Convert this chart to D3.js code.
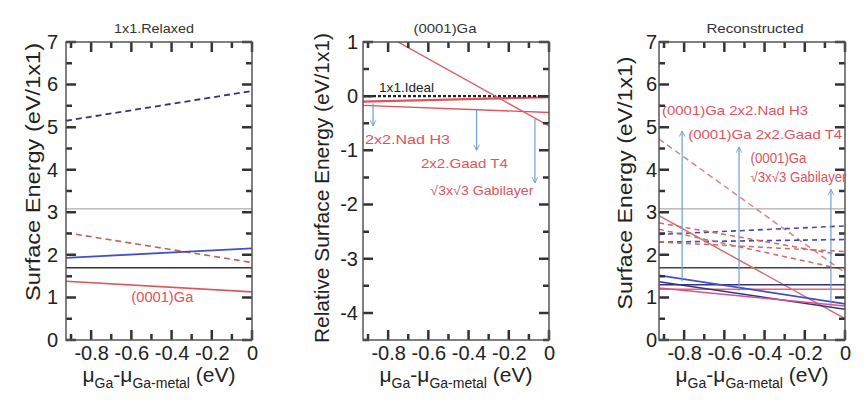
<!DOCTYPE html>
<html><head><meta charset="utf-8">
<script src="https://cdn.jsdelivr.net/npm/d3@7"></script>
<style>body{margin:0;background:#fff}svg{display:block}</style>
</head><body>
<script>
// ---------------- data ----------------
const muEnds = [-0.925, 0];                 // chemical potential range (eV)
const xTickValues = [-0.8, -0.6, -0.4, -0.2, 0];
const xMinorValues = [-0.9, -0.7, -0.5, -0.3, -0.1];
const energyTicks = [0, 1, 2, 3, 4, 5, 6, 7];
const energyMinor = [0.5, 1.5, 2.5, 3.5, 4.5, 5.5, 6.5];
const relativeTicks = [-4, -3, -2, -1, 0, 1];
const relativeMinor = [-4.5, -3.5, -2.5, -1.5, -0.5, 0.5];

const panelTitles = ["1x1.Relaxed", "(0001)Ga", "Reconstructed"];
const yLabels = ["Surface Energy (eV/1x1)", "Relative Surface Energy (eV/1x1)", "Surface Energy (eV/1x1)"];

// panel 1 : 1x1 relaxed (values at mu = -0.925 and 0)
const relaxedNavyDashed = [5.15, 5.85];
const relaxedGrayRef = [3.08, 3.08];
const relaxedRedDashed = [2.52, 1.82];
const relaxedBlue = [1.93, 2.15];
const relaxedBlackRef = [1.70, 1.70];
const relaxedGa = [1.38, 1.13];

// panel 2 : (0001)Ga relative energies
const idealLine = [0, 0];
const sqrt3Bilayer = [1.36, -0.55];
const nadH3 = [-0.10, -0.02];
const gaadT4 = [-0.17, -0.30];
const relArrowMu = [-0.875, -0.36, -0.07];
const relArrowFrom = [-0.13, -0.24, -0.42];
const relArrowTo = [-0.55, -1.0, -1.6];

// panel 3 : reconstructed
const reconGrayRef = [3.08, 3.08];
const reconBlackRef = [1.70, 1.70];
const reconNavyRef = [1.30, 1.30];
const reconRedRef = [1.19, 1.19];
const reconSteep = [2.92, 0.50];
const reconBlue = [1.52, 0.85];
const reconNavy = [1.37, 0.72];
const reconPink = [1.22, 0.80];
const reconDashedSteep = [4.72, 1.58];
const reconNavyDashedA = [2.48, 2.68];
const reconNavyDashedB = [2.30, 2.36];
const reconRedDashedA = [2.75, 1.98];
const reconRedDashedB = [2.30, 2.08];
const reconRedDashedC = [2.60, 1.65];
const reconArrowMu = [-0.81, -0.527, -0.07];
const reconArrowFrom = [1.38, 1.15, 0.80];
const reconArrowTo = [4.91, 4.53, 3.54];

// ---------------- drawing ----------------
const W = 866, H = 410;
const svg = d3.select("body").append("svg").attr("width", W).attr("height", H)
  .style("font-family", "'Liberation Sans', Arial, sans-serif");

const defs = svg.append("defs");
defs.append("marker").attr("id", "arr").attr("viewBox", "0 0 10 10")
  .attr("refX", 9).attr("refY", 5).attr("markerWidth", 7).attr("markerHeight", 7)
  .attr("orient", "auto-start-reverse").attr("markerUnits", "userSpaceOnUse")
  .append("path").attr("d", "M1,1 L9,5 L1,9").attr("fill", "none")
  .attr("stroke", "#6f9fd0").attr("stroke-width", 1.3);

const RED = "#e0525c", BLUE = "#3f4fcf", NAVY = "#34347c", ARROW = "#6f9fd0";

function panel(cfg) {
  const x = d3.scaleLinear().domain(muEnds).range([cfg.left, cfg.right]);
  const y = d3.scaleLinear().domain(cfg.yDomain).range([340, 42]);
  const yTop = 42, yBot = 340;
  const g = svg.append("g");
  const clipId = "clip" + cfg.id;
  defs.append("clipPath").attr("id", clipId).append("rect")
    .attr("x", cfg.left).attr("y", yTop).attr("width", cfg.right - cfg.left).attr("height", yBot - yTop);
  const plot = g.append("g").attr("clip-path", `url(#${clipId})`);

  const line = d3.line().x(d => x(d[0])).y(d => y(d[1]));
  cfg.series.forEach(s => {
    plot.append("path").datum(muEnds.map((m, i) => [m, s.v[i]]))
      .attr("d", line).attr("fill", "none").attr("stroke", s.c)
      .attr("stroke-width", s.w || 1.5)
      .attr("stroke-dasharray", s.dash || null);
  });

  // arrows
  cfg.arrows.mu.forEach((m, i) => {
    g.append("line").attr("x1", x(m)).attr("x2", x(m))
      .attr("y1", y(cfg.arrows.from[i])).attr("y2", y(cfg.arrows.to[i]))
      .attr("stroke", ARROW).attr("stroke-width", 1.2).attr("marker-end", "url(#arr)");
  });

  // tick labels via d3 axes (tick marks drawn below)
  const fmt = d => d === 0 ? "0" : String(d);
  const styleAxis = sel => {
    sel.select(".domain").remove();
    sel.selectAll(".tick line").remove();
    sel.selectAll(".tick text").attr("fill", "#222").style("font-size", "20px")
      .style("font-family", "'Liberation Sans', Arial, sans-serif");
  };
  g.append("g").attr("transform", `translate(0,${yBot})`)
    .call(d3.axisBottom(x).tickValues(xTickValues).tickFormat(fmt).tickSize(0).tickPadding(6)).call(styleAxis);
  g.append("g").attr("transform", `translate(${cfg.left},0)`)
    .call(d3.axisLeft(y).tickValues(cfg.ticks).tickFormat(fmt).tickSize(0).tickPadding(cfg.pad)).call(styleAxis);

  // inside tick marks on all four sides, positioned by the scales
  const MAJ = 10, MIN = 6;
  const xt = xTickValues.map(v => [v, MAJ]).concat(xMinorValues.map(v => [v, MIN]));
  const yt = cfg.ticks.map(v => [v, MAJ]).concat(cfg.minor.map(v => [v, MIN]));
  let dPath = "";
  xt.forEach(([v, len]) => {
    const px = x(v);
    dPath += `M${px},${yBot}V${yBot - len}M${px},${yTop}V${yTop + len}`;
  });
  yt.forEach(([v, len]) => {
    const py = y(v);
    dPath += `M${cfg.left},${py}H${cfg.left + len}M${cfg.right},${py}H${cfg.right - len}`;
  });
  g.append("path").attr("d", dPath).attr("fill", "none")
    .style("stroke", "#333").style("stroke-width", "2.5px");

  // frame
  g.append("rect").attr("x", cfg.left).attr("y", yTop).attr("width", cfg.right - cfg.left).attr("height", yBot - yTop)
    .attr("fill", "none").attr("stroke", "#555").attr("stroke-width", 1.5);

  // title
  g.append("text").attr("x", cfg.titleX).attr("y", 33).attr("text-anchor", "middle")
    .attr("fill", "#333").style("font-size", "13px")
    .attr("textLength", cfg.titleLen).attr("lengthAdjust", "spacingAndGlyphs").text(cfg.title);

  // y label
  g.append("text").attr("transform", `translate(${cfg.ylx},${cfg.yly}) rotate(-90)`)
    .attr("text-anchor", "middle").attr("fill", "#222").style("font-size", "21px")
    .attr("textLength", cfg.ylLen).attr("lengthAdjust", "spacingAndGlyphs").text(cfg.ylabel);

  // x label
  const cx = (cfg.left + cfg.right) / 2;
  const t = g.append("text").attr("x", cx).attr("y", 382).attr("text-anchor", "middle")
    .attr("fill", "#222").style("font-size", "21px");
  t.append("tspan").text("μ");
  t.append("tspan").attr("dy", 6).style("font-size", "14px").text("Ga");
  t.append("tspan").attr("dy", -6).text("-μ");
  t.append("tspan").attr("dy", 6).style("font-size", "14px").text("Ga-metal");
  t.append("tspan").attr("dy", -6).text(" (eV)");

  // annotations
  cfg.labels.forEach(l => {
    g.append("text").attr("x", x(l.mu)).attr("y", y(l.v)).attr("fill", l.c || RED)
      .style("font-size", (l.size || 14) + "px")
      .attr("textLength", l.len).attr("lengthAdjust", "spacingAndGlyphs").text(l.t);
  });
}

// Panel 1
panel({
  id: 1, left: 66, right: 252, yDomain: [0, 7], ticks: energyTicks, minor: energyMinor, pad: 8,
  title: panelTitles[0], titleX: 154, titleLen: 80,
  ylabel: yLabels[0], ylx: 40, yly: 172, ylLen: 258,
  series: [
    { v: relaxedNavyDashed, c: NAVY, dash: "6,4", w: 1.8 },
    { v: relaxedGrayRef, c: "#999", w: 1 },
    { v: relaxedRedDashed, c: "#c0605a", dash: "6,4", w: 1.6 },
    { v: relaxedBlue, c: BLUE, w: 1.8 },
    { v: relaxedBlackRef, c: "#333", w: 1.5 },
    { v: relaxedGa, c: RED, w: 1.6 }
  ],
  arrows: { mu: [], from: [], to: [] },
  labels: [{ t: "(0001)Ga", mu: -0.6, v: 0.9, len: 62 }]
});

// Panel 2
panel({
  id: 2, left: 363, right: 549, yDomain: [-4.5, 1], ticks: relativeTicks, minor: relativeMinor, pad: 5,
  title: panelTitles[1], titleX: 445, titleLen: 63,
  ylabel: yLabels[1], ylx: 329, yly: 188, ylLen: 310,
  series: [
    { v: gaadT4, c: RED, w: 1.4 },
    { v: nadH3, c: RED, w: 2.2 },
    { v: idealLine, c: "#222", dash: "3,2", w: 2.2 },
    { v: sqrt3Bilayer, c: "#d86068", w: 1.4 }
  ],
  arrows: { mu: relArrowMu, from: relArrowFrom, to: relArrowTo },
  labels: [
    { t: "1x1.Ideal", mu: -0.845, v: 0.07, c: "#222", size: 13, len: 55 },
    { t: "2x2.Nad H3", mu: -0.915, v: -0.88, size: 13, len: 85 },
    { t: "2x2.Gaad T4", mu: -0.637, v: -1.32, size: 13, len: 87 },
    { t: "√3x√3 Gabilayer", mu: -0.59, v: -1.83, size: 13, len: 103 }
  ]
});

// Panel 3
panel({
  id: 3, left: 659, right: 845, yDomain: [0, 7], ticks: energyTicks, minor: energyMinor, pad: 2,
  title: panelTitles[2], titleX: 755, titleLen: 97,
  ylabel: yLabels[2], ylx: 632, yly: 183, ylLen: 253,
  series: [
    { v: reconGrayRef, c: "#999", w: 1 },
    { v: reconDashedSteep, c: "#d08585", dash: "6,4", w: 1.5 },
    { v: reconNavyDashedA, c: "#4848a8", dash: "5,4", w: 1.6 },
    { v: reconNavyDashedB, c: "#4848a8", dash: "5,4", w: 1.6 },
    { v: reconRedDashedA, c: "#c86870", dash: "5,4", w: 1.5 },
    { v: reconRedDashedB, c: "#c86870", dash: "5,4", w: 1.5 },
    { v: reconRedDashedC, c: "#c86870", dash: "5,4", w: 1.5 },
    { v: reconBlackRef, c: "#444", w: 1.5 },
    { v: reconSteep, c: "#d07070", w: 1.5 },
    { v: reconNavyRef, c: NAVY, w: 1.5 },
    { v: reconRedRef, c: "#e8607a", w: 1.5 },
    { v: reconBlue, c: BLUE, w: 1.8 },
    { v: reconNavy, c: NAVY, w: 1.5 },
    { v: reconPink, c: "#d9508a", w: 1.5 }
  ],
  arrows: { mu: reconArrowMu, from: reconArrowFrom, to: reconArrowTo },
  labels: [
    { t: "(0001)Ga 2x2.Nad H3", mu: -0.91, v: 5.29, size: 13, len: 146 },
    { t: "(0001)Ga 2x2.Gaad T4", mu: -0.78, v: 4.72, size: 13, len: 154 },
    { t: "(0001)Ga", mu: -0.47, v: 4.15, size: 14, len: 56 },
    { t: "√3x√3 Gabilayer", mu: -0.47, v: 3.7, size: 14, len: 96 }
  ]
});
</script>
</body></html>
